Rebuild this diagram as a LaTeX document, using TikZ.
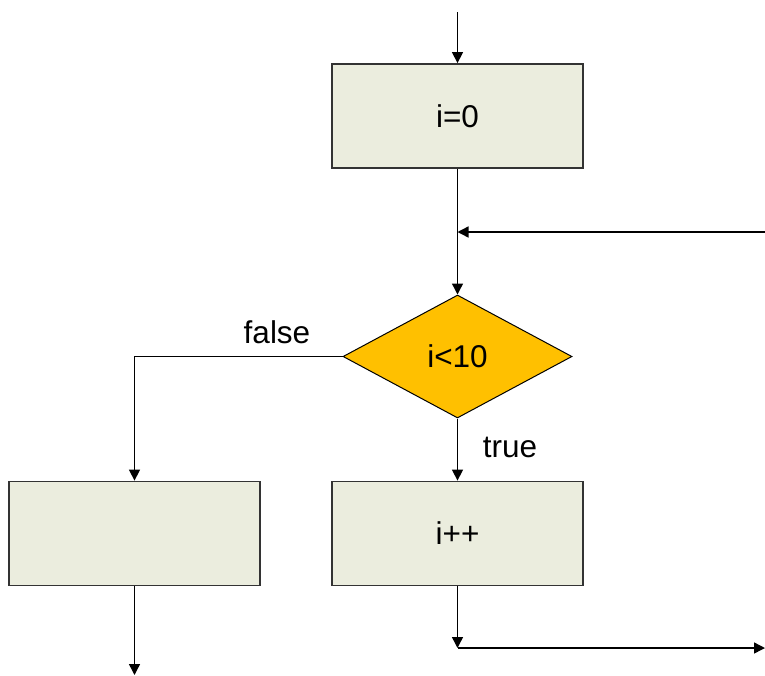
\documentclass[tikz,border=0pt]{standalone}
\usepackage{fontspec}
\setmainfont{Liberation Sans}
\usetikzlibrary{arrows.meta,shapes.geometric}
\definecolor{boxfill}{HTML}{EBEDDE}
\definecolor{boxline}{HTML}{333333}
\definecolor{decfill}{HTML}{FFC000}
\tikzset{
  textsize/.style={font=\fontsize{31.5}{38}\selectfont},
  procbox/.style={draw=boxline, line width=1.8pt, fill=boxfill, minimum width=251pt, minimum height=104pt, inner sep=0pt, textsize},
  decision/.style={diamond, draw=black, line width=1pt, fill=decfill, minimum width=229pt, minimum height=123pt, inner sep=0pt, aspect=1.86, textsize},
  flow/.style={draw=black, line width=1.4pt, -{Triangle[length=11pt,width=11pt]}},
  lbl/.style={textsize, inner sep=0pt}
}
\begin{document}
\begin{tikzpicture}[x=1pt, y=-1pt]
  \useasboundingbox (0,0) rectangle (765,675);
  % boxes and decision
  \node[procbox] (init) at (457.5,116) {i=0};
  \node[decision] (cond) at (457.5,356.5) {i<10};
  \node[procbox] (exit) at (134.5,533.5) {};
  \node[procbox] (incr) at (457.5,533.5) {i++};
  % free ends
  \coordinate (entry) at (457.5,12);
  \coordinate (back) at (765,232);
  \coordinate (join) at (457.5,232);
  \coordinate (leave) at (134.5,675);
  \coordinate (turn) at (457.5,648);
  \coordinate (out) at (765,648);
  % connectors
  \draw[flow] (entry) -- (init.north);
  \draw[flow] (init.south) -- (cond.north);
  \draw[flow] (back) -- (join);
  \draw[flow] (cond.west) -| (exit.north);
  \draw[flow] (cond.south) -- (incr.north);
  \draw[flow] (exit.south) -- (leave);
  \draw[flow] (incr.south) -- (turn);
  \draw[flow] (turn) -- (out);
  % branch labels
  \node[lbl] (flabel) at (277,332) {false};
  \node[lbl] (tlabel) at (510,447) {true};
\end{tikzpicture}
\end{document}
